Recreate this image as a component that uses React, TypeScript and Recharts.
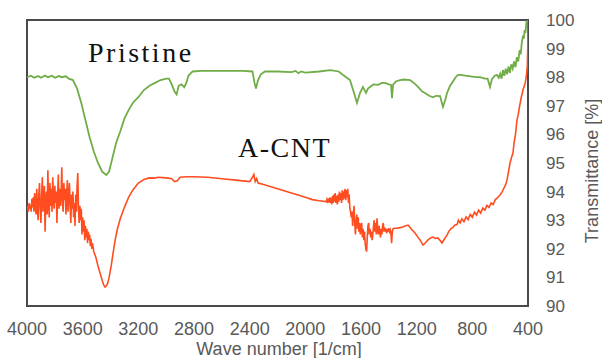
import { LineChart, Line, XAxis, YAxis, ReferenceArea } from "recharts";

// [wave number (1/cm), transmittance (%)]
const pristine: [number, number][] = [
  [4000, 98.0], [3970, 98.05], [3950, 97.98], [3920, 98.04], [3900, 97.98],
  [3870, 98.06], [3850, 98.0], [3820, 98.05], [3800, 97.98], [3770, 98.04],
  [3750, 98.0], [3720, 98.03], [3700, 97.95], [3670, 97.9], [3640, 97.6],
  [3610, 97.1], [3580, 96.5], [3550, 95.9], [3520, 95.4], [3490, 95.0],
  [3460, 94.7], [3430, 94.58], [3410, 94.7], [3390, 95.1], [3360, 95.7],
  [3330, 96.1], [3300, 96.55], [3270, 96.85], [3240, 97.1], [3200, 97.3],
  [3160, 97.55], [3120, 97.7], [3080, 97.8], [3040, 97.9], [3000, 97.95],
  [2980, 97.95], [2960, 97.75], [2940, 97.5], [2925, 97.4], [2910, 97.7],
  [2890, 97.75], [2870, 97.65], [2855, 97.8], [2840, 98.05], [2810, 98.2],
  [2750, 98.22], [2600, 98.22], [2450, 98.22], [2380, 98.2], [2365, 97.8],
  [2355, 97.6], [2340, 97.9], [2320, 98.1], [2290, 98.2], [2200, 98.2],
  [2100, 98.18], [2070, 98.22], [2050, 98.14], [2030, 98.2], [2000, 98.16],
  [1900, 98.2], [1822, 98.25], [1760, 98.2], [1729, 98.08], [1679, 97.9],
  [1650, 97.45], [1629, 97.1], [1607, 97.45], [1586, 97.66], [1564, 97.45],
  [1550, 97.6], [1535, 97.66], [1510, 97.75], [1478, 97.73], [1450, 97.8],
  [1427, 97.8], [1400, 97.75], [1384, 97.73], [1377, 97.27], [1370, 97.73],
  [1350, 97.85], [1320, 97.9], [1290, 97.92], [1248, 97.9], [1220, 97.8],
  [1190, 97.66], [1160, 97.5], [1140, 97.45], [1110, 97.35], [1083, 97.3],
  [1060, 97.35], [1032, 97.34], [1011, 96.96], [995, 97.2], [982, 97.45],
  [960, 97.7], [946, 97.8], [920, 98.0], [903, 98.08], [888, 98.08],
  [840, 98.05], [800, 98.02], [770, 98.0], [745, 98.0], [710, 97.95],
  [690, 97.95], [673, 97.66], [660, 97.92], [640, 98.05], [623, 98.08],
  [610, 97.98], [600, 98.12], [590, 97.95], [580, 98.25], [570, 98.05],
  [560, 98.3], [550, 98.1], [540, 98.38], [530, 98.15], [520, 98.45],
  [510, 98.3], [500, 98.55], [490, 98.35], [480, 98.7], [470, 98.55],
  [460, 98.95], [452, 98.8], [445, 99.2], [436, 99.45], [430, 99.35],
  [424, 99.65], [418, 99.55], [412, 99.9], [405, 99.85], [400, 100.0],
];

const aCnt: [number, number][] = [
  [4000, 93.35], [3995, 93.5], [3990, 93.3], [3985, 93.6], [3980, 93.4],
  [3975, 93.55], [3970, 93.3], [3965, 93.75], [3960, 93.45], [3955, 93.8],
  [3950, 93.3], [3945, 93.95], [3940, 93.5], [3935, 93.2], [3930, 94.1],
  [3925, 93.4], [3920, 93.0], [3915, 93.9], [3910, 94.3], [3905, 93.4],
  [3900, 92.9], [3895, 93.8], [3890, 94.5], [3885, 93.3], [3880, 93.9],
  [3875, 94.2], [3870, 92.6], [3865, 93.7], [3860, 94.0], [3855, 93.2],
  [3850, 94.75], [3845, 93.6], [3840, 93.1], [3835, 94.3], [3830, 93.5],
  [3825, 94.1], [3820, 93.3], [3815, 94.5], [3810, 93.8], [3805, 93.4],
  [3800, 94.2], [3795, 93.6], [3790, 94.0], [3785, 92.9], [3780, 93.9],
  [3775, 94.6], [3770, 93.4], [3765, 94.1], [3760, 93.5], [3755, 93.9],
  [3750, 94.85], [3745, 93.6], [3740, 93.3], [3735, 94.3], [3730, 93.7],
  [3725, 94.1], [3720, 93.2], [3715, 93.9], [3710, 94.4], [3705, 93.3],
  [3700, 93.8], [3695, 94.3], [3690, 93.5], [3685, 92.9], [3680, 93.9],
  [3675, 93.4], [3670, 94.0], [3665, 93.1], [3660, 93.6], [3655, 92.8],
  [3650, 93.9], [3645, 93.3], [3640, 94.2], [3635, 94.65], [3630, 93.4],
  [3625, 92.9], [3620, 93.5], [3615, 93.0], [3610, 93.4], [3605, 92.5],
  [3600, 93.1], [3595, 92.6], [3590, 93.0], [3585, 92.3], [3580, 92.8],
  [3575, 92.4], [3570, 92.7], [3565, 92.2], [3560, 92.6], [3555, 92.3],
  [3550, 92.5], [3545, 92.1], [3540, 92.35], [3535, 92.0], [3530, 92.2],
  [3520, 91.9], [3505, 91.7], [3490, 91.4], [3475, 91.15], [3460, 90.9],
  [3450, 90.75], [3440, 90.66], [3430, 90.7], [3420, 90.8], [3410, 91.0],
  [3395, 91.4], [3380, 91.9], [3365, 92.35], [3350, 92.7], [3330, 93.05],
  [3300, 93.45], [3270, 93.8], [3240, 94.05], [3200, 94.3], [3160, 94.42],
  [3120, 94.48], [3080, 94.47], [3060, 94.5], [3000, 94.48], [2960, 94.45],
  [2940, 94.35], [2920, 94.38], [2900, 94.5], [2850, 94.52], [2800, 94.52],
  [2700, 94.5], [2600, 94.45], [2500, 94.4], [2400, 94.35], [2380, 94.5],
  [2370, 94.6], [2360, 94.35], [2350, 94.45], [2340, 94.3], [2300, 94.25],
  [2200, 94.1], [2100, 93.95], [2000, 93.8], [1950, 93.72], [1900, 93.68],
  [1850, 93.65], [1845, 93.72], [1840, 93.6], [1835, 93.75], [1830, 93.62],
  [1825, 93.8], [1820, 93.6], [1815, 93.78], [1810, 93.55], [1805, 93.85],
  [1800, 93.6], [1795, 93.9], [1790, 93.65], [1785, 93.95], [1780, 93.6],
  [1775, 93.85], [1770, 93.55], [1765, 93.9], [1760, 93.65], [1755, 94.0],
  [1750, 93.7], [1745, 93.95], [1740, 93.6], [1735, 94.05], [1730, 93.7],
  [1725, 94.0], [1720, 93.75], [1715, 94.1], [1710, 93.7], [1705, 94.05],
  [1700, 93.8], [1695, 94.1], [1690, 93.6], [1685, 93.9], [1680, 93.4],
  [1675, 93.3], [1670, 93.1], [1665, 93.3], [1660, 92.8], [1655, 93.2],
  [1650, 93.5], [1645, 92.9], [1640, 92.5], [1635, 93.0], [1630, 93.2],
  [1625, 92.7], [1620, 93.1], [1615, 92.6], [1610, 92.9], [1605, 92.5],
  [1600, 92.8], [1595, 92.9], [1590, 92.4], [1585, 92.7], [1580, 92.3],
  [1575, 92.6], [1570, 92.2], [1565, 92.0], [1560, 91.9], [1555, 92.4],
  [1550, 92.8], [1545, 92.9], [1540, 92.5], [1535, 92.7], [1530, 92.4],
  [1525, 92.6], [1520, 92.3], [1515, 92.5], [1510, 92.8], [1505, 93.0],
  [1500, 92.6], [1495, 92.9], [1490, 92.5], [1485, 93.07], [1480, 92.7],
  [1475, 92.5], [1470, 92.8], [1465, 92.6], [1460, 92.4], [1455, 92.7],
  [1450, 92.5], [1445, 92.8], [1440, 92.9], [1435, 92.6], [1430, 92.75],
  [1425, 92.6], [1420, 92.7], [1415, 92.55], [1410, 92.7], [1405, 92.6],
  [1400, 92.72], [1395, 92.6], [1390, 92.66], [1385, 92.55], [1380, 92.2],
  [1375, 92.6], [1370, 92.7], [1360, 92.72], [1340, 92.72], [1320, 92.74],
  [1300, 92.76], [1284, 92.8], [1262, 92.83], [1240, 92.7], [1212, 92.55],
  [1190, 92.4], [1176, 92.31], [1154, 92.13], [1135, 92.22], [1118, 92.31],
  [1100, 92.38], [1083, 92.41], [1065, 92.36], [1047, 92.38], [1030, 92.28],
  [1018, 92.2], [1000, 92.35], [982, 92.48], [970, 92.6], [955, 92.7],
  [940, 92.75], [924, 92.83], [910, 92.85], [900, 93.0], [888, 92.9],
  [875, 93.05], [860, 92.95], [845, 93.12], [830, 93.02], [815, 93.2],
  [800, 93.1], [785, 93.28], [770, 93.18], [755, 93.35], [740, 93.25],
  [725, 93.42], [710, 93.35], [695, 93.52], [680, 93.45], [665, 93.6],
  [650, 93.55], [635, 93.72], [620, 93.78], [601, 93.88], [585, 94.0],
  [575, 94.1], [560, 94.25], [551, 94.4], [540, 94.7], [529, 95.0],
  [518, 95.2], [508, 95.35], [500, 95.7], [490, 96.0], [479, 96.5],
  [470, 96.7], [460, 97.0], [448, 97.3], [436, 97.55], [420, 97.8],
  [410, 98.1], [405, 98.4], [402, 99.0], [400, 100.0],
];

const xTicks = [4000, 3600, 3200, 2800, 2400, 2000, 1600, 1200, 800, 400];
const yTicks = [90, 91, 92, 93, 94, 95, 96, 97, 98, 99, 100];

const toRows = (pts: [number, number][]) => pts.map(([wn, t]) => ({ wn, t }));

const sans = "Liberation Sans, Arial, sans-serif";
const serif = "Liberation Serif, Times New Roman, serif";

export default function App() {
  return (
    <div style={{ position: "absolute", left: 0, top: 0, width: 602, height: 358, background: "#fff" }}>
      <LineChart width={602} height={358} margin={{ top: 20, right: 0, bottom: 0, left: 27 }}>
        <XAxis
          type="number"
          dataKey="wn"
          domain={[400, 4000]}
          reversed
          ticks={xTicks}
          allowDataOverflow
          axisLine={false}
          tickLine={false}
          tickSize={0}
          tickMargin={16}
          height={52}
          tick={{ fontSize: 18, fill: "#595959", fontFamily: sans }}
        />
        <YAxis
          orientation="right"
          domain={[90, 100]}
          ticks={yTicks}
          allowDataOverflow
          axisLine={false}
          tickLine={false}
          tickSize={0}
          tickMargin={18}
          width={74}
          tick={{ fontSize: 17, fill: "#595959", fontFamily: sans, textAnchor: "start" }}
        />
        <Line
          data={toRows(pristine)}
          dataKey="t"
          stroke="#70ad47"
          strokeWidth={1.8}
          dot={false}
          isAnimationActive={false}
        />
        <Line
          data={toRows(aCnt)}
          dataKey="t"
          stroke="#ff4d1f"
          strokeWidth={1.6}
          dot={false}
          isAnimationActive={false}
        />
        <ReferenceArea x1={4000} x2={400} y1={90} y2={100} fill="none" stroke="#4a4a4a" strokeWidth={2} />
      </LineChart>
      <svg width={602} height={358} style={{ position: "absolute", left: 0, top: 0, pointerEvents: "none" }}>
        <text x={88} y={62} fontFamily={serif} fontSize={28} letterSpacing={2.5} fill="#111">
          Pristine
        </text>
        <text x={238} y={157} fontFamily={serif} fontSize={28} letterSpacing={1.5} fill="#111">
          A-CNT
        </text>
        <text x={279} y={355} textAnchor="middle" fontFamily={sans} fontSize={18} fill="#595959">
          Wave number [1/cm]
        </text>
        <text
          x={598}
          y={171}
          textAnchor="middle"
          transform="rotate(-90 598 171)"
          fontFamily={sans}
          fontSize={18}
          fill="#595959"
        >
          Transmittance [%]
        </text>
      </svg>
    </div>
  );
}
